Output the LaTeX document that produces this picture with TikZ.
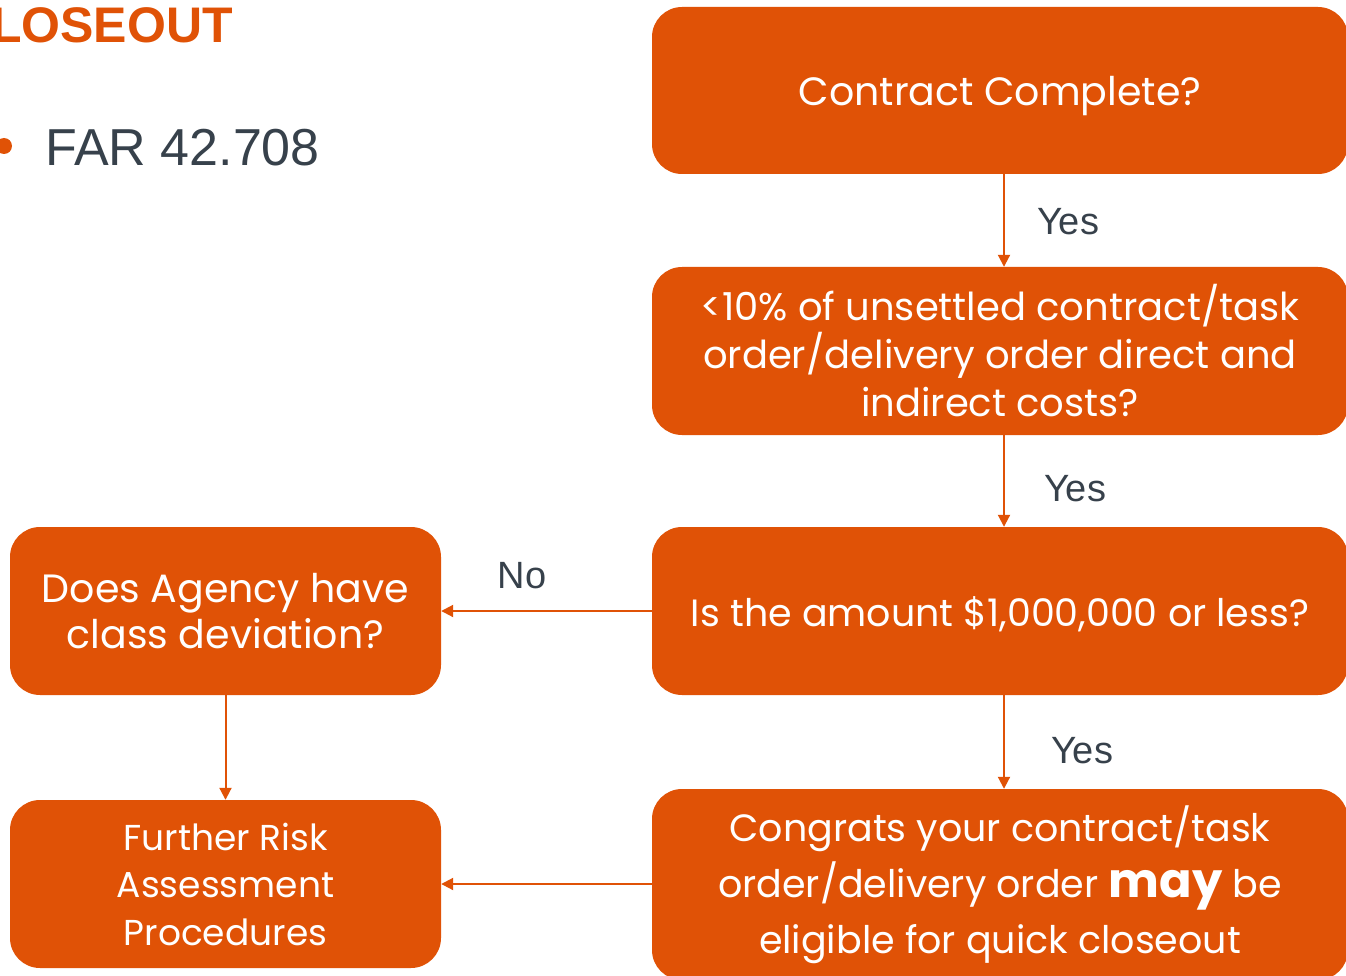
\documentclass[tikz,border=0pt]{standalone}
\usepackage{fontspec}
\setmainfont{Liberation Sans}
\newfontfamily\boxfont{Poppins}
\usetikzlibrary{arrows.meta}
\definecolor{orng}{RGB}{224,82,6}
\definecolor{slate}{RGB}{55,65,75}
\tikzset{
  x=1pt, y=-1pt,
  box/.style={fill=orng, rounded corners=30pt, text=white, align=center, inner sep=0pt, font=\boxfont\fontsize{38.5}{48}\selectfont},
  arr/.style={draw=orng, line width=2pt, -{Triangle[length=12pt,width=12pt]}},
  lab/.style={text=slate, font=\fontsize{38}{42}\selectfont, inner sep=0pt}
}
\begin{document}
\begin{tikzpicture}
\useasboundingbox (0,0) rectangle (1346,976);
% title and bullet
\node[anchor=base east, text=orng, inner sep=0pt, font=\bfseries\fontsize{50}{56}\selectfont] (title) at (233,43) {CLOSEOUT};
\fill[orng] (4,146) circle (8);
\node[anchor=base west, text=slate, inner sep=0pt, font=\fontsize{52}{60}\selectfont] (far) at (45,166) {FAR 42.708};
% boxes
\node[box, minimum width=696pt, minimum height=167pt, font=\boxfont\fontsize{39.5}{48}\selectfont] (b1) at (1000,90.5) {\raisebox{-6pt}[\height][\depth]{Contract Complete?}};
\node[box, minimum width=696pt, minimum height=168pt] (b2) at (1000,351) {<10\% of unsettled contract/task\\order/delivery order direct and\\indirect costs?};
\node[box, minimum width=696pt, minimum height=168pt, font=\boxfont\fontsize{38}{48}\selectfont] (b3) at (1000,611) {\raisebox{-3pt}[\height][\depth]{Is the amount \$1,000,000 or less?}};
\node[box, minimum width=696pt, minimum height=191pt, font=\boxfont\fontsize{38}{56}\selectfont] (b4) at (1000,884.5) {Congrats your contract/task\\order/delivery order {\fontsize{48}{56}\selectfont\bfseries may} be\\eligible for quick closeout};
\node[box, minimum width=431pt, minimum height=168pt, font=\boxfont\fontsize{39.5}{46}\selectfont] (l1) at (225.5,611) {Does Agency have\\class deviation?};
\node[box, minimum width=431pt, minimum height=168pt, font=\boxfont\fontsize{36}{47.5}\selectfont] (l2) at (225.5,884) {Further Risk\\Assessment\\Procedures};
% connectors
\draw[arr] ([xshift=4pt]b1.south) -- ([xshift=4pt]b2.north);
\draw[arr] ([xshift=4pt]b2.south) -- ([xshift=4pt]b3.north);
\draw[arr] ([xshift=4pt]b3.south) -- ([xshift=4pt]b4.north);
\draw[arr] (b3.west) -- (l1.east);
\draw[arr] (b4.west |- l2.east) -- (l2.east);
\draw[arr] (l1.south) -- (l2.north);
% labels
\node[lab] (y1) at (1068,222) {Yes};
\node[lab] (y2) at (1075,489) {Yes};
\node[lab] (y3) at (1082,751) {Yes};
\node[lab] (no) at (522,576) {No};
\end{tikzpicture}
\end{document}
